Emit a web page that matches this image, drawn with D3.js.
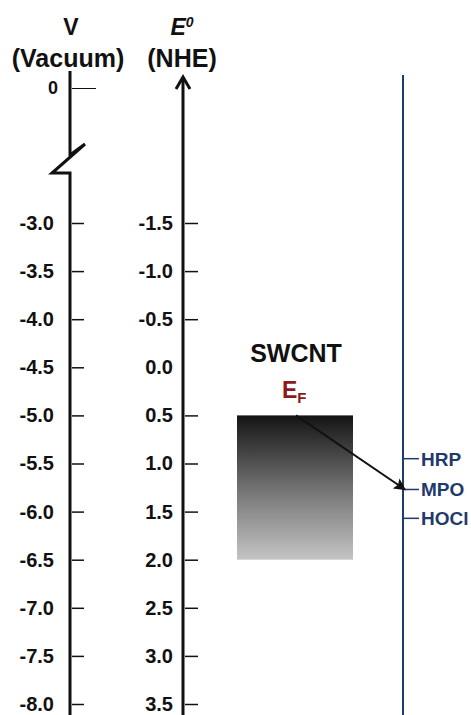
<!DOCTYPE html>
<html>
<head>
<meta charset="utf-8">
<script src="https://cdn.jsdelivr.net/npm/d3@7"></script>
<style>
  body { margin: 0; background: #fff; }
  svg { display: block; font-family: Arial, "Liberation Sans", sans-serif; font-weight: bold; }
</style>
</head>
<body>
<div id="chart"></div>
<script>
// energy levels (V vs vacuum, and E0 vs NHE)
const vacuumTicks = [0, -3.0, -3.5, -4.0, -4.5, -5.0, -5.5, -6.0, -6.5, -7.0, -7.5, -8.0];
const nheTicks = [-1.5, -1.0, -0.5, 0.0, 0.5, 1.0, 1.5, 2.0, 2.5, 3.0, 3.5];
const nheNoTick = [0.0];
const swcntBand = [0.5, 2.0];       // NHE, top (Fermi level) and bottom of the band
const enzymes = ["HRP", "MPO", "HOCl"];
const enzymePotentials = [0.95, 1.27, 1.57]; // NHE
const arrowTarget = "MPO";

const width = 471, height = 715;
const blue = "#1f3a6b";
const ink = "#111";

const svg = d3.select("#chart").append("svg")
  .attr("width", width)
  .attr("height", height);

// vacuum scale with a break between 0 and -3.0
const yVac = d3.scaleLinear().domain([0, -3.0, -8.0]).range([88, 223, 704]);
const yNhe = d3.scaleLinear().domain([-1.5, 3.5]).range([223, 704]);

const xVac = 70, xNhe = 183, xBlue = 403;
const fmt1 = d => d3.format(".1f")(d).replace("\u2212", "-");
const fmtVac = d => d === 0 ? "0" : fmt1(d);

// --- headers
svg.append("text").attr("x", 71).attr("y", 35).attr("text-anchor", "middle")
  .style("font-size", "23px").attr("fill", ink).text("V");
svg.append("text").attr("x", 68).attr("y", 67).attr("text-anchor", "middle")
  .style("font-size", "25px").attr("fill", ink).text("(Vacuum)");
const e0 = svg.append("text").attr("x", 182).attr("y", 35).attr("text-anchor", "middle")
  .style("font-size", "23px").style("font-style", "italic").attr("fill", ink);
e0.append("tspan").text("E");
e0.append("tspan").attr("dy", -8).style("font-size", "14px").text("0");
svg.append("text").attr("x", 182).attr("y", 67).attr("text-anchor", "middle")
  .style("font-size", "25px").attr("fill", ink).text("(NHE)");

// --- vacuum axis
const vacAxis = d3.axisLeft(yVac)
  .tickValues(vacuumTicks)
  .tickSizeInner(-14).tickSizeOuter(0)
  .tickPadding(16)
  .tickFormat(fmtVac);

const gVac = svg.append("g").attr("transform", `translate(${xVac},0)`).call(vacAxis);
gVac.attr("font-family", null).attr("font-size", null);
gVac.select(".domain").remove();
gVac.selectAll(".tick line").attr("stroke", ink).attr("stroke-width", 1.5).attr("x1", 2);
gVac.selectAll(".tick text").style("font-size", "20px").attr("fill", ink);
gVac.selectAll(".tick").filter(d => d === 0).select("line").attr("x2", 26).attr("stroke-width", 1);
gVac.selectAll(".tick").filter(d => d === 0).select("text").attr("x", -12).style("font-size", "18px");

// axis line with break
const brk = d3.path();
brk.moveTo(xVac, 71);
brk.lineTo(xVac, 155);
brk.lineTo(xVac + 15, 144);
brk.lineTo(xVac - 18, 173);
brk.lineTo(xVac, 173);
brk.lineTo(xVac, height);
svg.append("path").attr("d", brk.toString()).attr("fill", "none")
  .attr("stroke", ink).attr("stroke-width", 3).attr("stroke-linejoin", "miter");

// --- NHE axis
const nheAxis = d3.axisLeft(yNhe)
  .tickValues(nheTicks)
  .tickSizeInner(-15).tickSizeOuter(0)
  .tickPadding(10)
  .tickFormat(fmt1);

const gNhe = svg.append("g").attr("transform", `translate(${xNhe},0)`).call(nheAxis);
gNhe.attr("font-family", null).attr("font-size", null);
gNhe.select(".domain").remove();
gNhe.selectAll(".tick line").attr("stroke", ink).attr("stroke-width", 1.5).attr("x1", 2);
gNhe.selectAll(".tick text").style("font-size", "20px").attr("fill", ink);
gNhe.selectAll(".tick").filter(d => nheNoTick.includes(d)).select("line").remove();

svg.append("line").attr("x1", xNhe).attr("x2", xNhe).attr("y1", 77).attr("y2", height)
  .attr("stroke", ink).attr("stroke-width", 3);
svg.append("path").attr("d", `M${xNhe - 7},89L${xNhe},77L${xNhe + 7},89`)
  .attr("fill", "none").attr("stroke", ink).attr("stroke-width", 3)
  .attr("stroke-linejoin", "miter");

// --- SWCNT band
const defs = svg.append("defs");
const grad = defs.append("linearGradient").attr("id", "band")
  .attr("x1", 0).attr("y1", 0).attr("x2", 0).attr("y2", 1);
grad.append("stop").attr("offset", "0%").attr("stop-color", "#141414");
grad.append("stop").attr("offset", "55%").attr("stop-color", "#7a7a7a");
grad.append("stop").attr("offset", "100%").attr("stop-color", "#c4c4c4");

const bandX0 = 237, bandX1 = 353;
svg.append("rect")
  .attr("x", bandX0).attr("width", bandX1 - bandX0)
  .attr("y", yNhe(swcntBand[0]))
  .attr("height", yNhe(swcntBand[1]) - yNhe(swcntBand[0]))
  .attr("fill", "url(#band)");

svg.append("text").attr("x", 296).attr("y", 362).attr("text-anchor", "middle")
  .style("font-size", "25px").attr("fill", ink).text("SWCNT");
const ef = svg.append("text").attr("x", 282).attr("y", 398)
  .attr("fill", "#8b1a1a").style("font-size", "23px");
ef.append("tspan").text("E");
ef.append("tspan").attr("dy", 5).style("font-size", "15px").text("F");

// --- enzyme axis
svg.append("line").attr("x1", xBlue).attr("x2", xBlue).attr("y1", 75).attr("y2", height)
  .attr("stroke", blue).attr("stroke-width", 2);
const gEnz = svg.append("g").selectAll("g").data(enzymes).join("g")
  .attr("transform", (d, i) => `translate(${xBlue},${yNhe(enzymePotentials[i])})`);
gEnz.append("line").attr("x1", 0).attr("x2", 16).attr("stroke", blue).attr("stroke-width", 1.5);
gEnz.append("text").attr("x", 18).attr("dy", "0.36em").attr("fill", blue)
  .style("font-size", "19px").text(d => d);

// --- transfer arrow
defs.append("marker").attr("id", "arr").attr("viewBox", "0 0 10 10")
  .attr("refX", 9).attr("refY", 5).attr("markerWidth", 6).attr("markerHeight", 6)
  .attr("orient", "auto")
  .append("path").attr("d", "M0,0L10,5L0,10L2,5Z").attr("fill", ink);
const ti = enzymes.indexOf(arrowTarget);
svg.append("line")
  .attr("x1", 296).attr("y1", yNhe(swcntBand[0]))
  .attr("x2", xBlue + 2).attr("y2", yNhe(enzymePotentials[ti]))
  .attr("stroke", ink).attr("stroke-width", 2)
  .attr("marker-end", "url(#arr)");
</script>
</body>
</html>
